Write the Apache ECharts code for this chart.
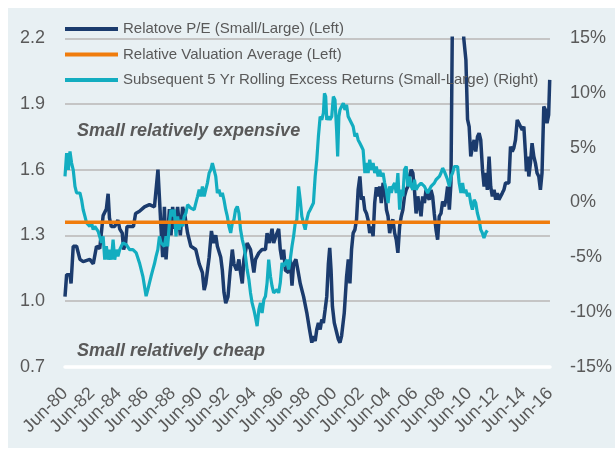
<!DOCTYPE html>
<html>
<head>
<meta charset="utf-8">
<script src="https://cdn.jsdelivr.net/npm/echarts@6/dist/echarts.min.js"></script>
<style>
  html, body { margin: 0; padding: 0; background: #ffffff; }
  #chart { position: absolute; left: 8px; top: 8px; width: 607px; height: 440px; }
</style>
</head>
<body>
<div id="chart"></div>
<script>
// x values are years after Jun-80 (0 = Jun-80, 36 = Jun-16)
const peX = [0, 0.12, 0.37, 0.45, 0.61, 0.86, 1.11, 1.35, 1.84, 2.1, 2.34, 2.58, 2.83, 3.07, 3.2, 3.3, 3.44, 3.69, 3.93, 4.06,
  4.25, 4.35, 4.5, 4.6, 4.84, 5.08, 5.24, 5.53, 5.9, 6.27, 6.64, 6.9, 7.13, 7.25, 7.38, 7.5, 7.75, 7.87, 7.99, 8.16,
  8.36, 8.56, 8.73, 8.9, 9.1, 9.34, 9.71, 9.96, 10.2, 10.33, 10.45, 10.7, 10.87, 11.02, 11.19, 11.31, 11.56, 11.68, 11.8, 11.93,
  12.1, 12.25, 12.42, 12.54, 12.74, 12.91, 13.03, 13.16, 13.28, 13.52, 13.77, 14.02, 14.14, 14.39, 14.63, 14.88, 15.0, 15.17, 15.37, 15.49,
  15.67, 15.86, 15.98, 16.1, 16.23, 16.36, 16.6, 16.72, 16.85, 16.97, 17.14, 17.29, 17.46, 17.71, 17.95, 18.15, 18.32, 18.44, 18.57, 18.69,
  18.81, 18.94, 19.06, 19.18, 19.31, 19.43, 19.55, 19.65, 19.75, 19.85, 19.99, 20.17, 20.29, 20.41, 20.53, 20.73, 20.9, 21.03, 21.15, 21.27,
  21.39, 21.52, 21.64, 21.76, 21.89, 22.01, 22.13, 22.25, 22.38, 22.5, 22.62, 22.75, 22.87, 22.99, 23.11, 23.24, 23.36, 23.48, 23.61, 23.73,
  23.86, 23.98, 24.1, 24.22, 24.34, 24.47, 24.59, 24.71, 24.84, 24.96, 25.08, 25.2, 25.33, 25.45, 25.57, 25.7, 25.82, 25.94, 26.06, 26.19,
  26.31, 26.43, 26.55, 26.68, 26.8, 26.92, 27.04, 27.17, 27.29, 27.41, 27.54, 27.66, 27.78, 27.91, 28.03, 28.16, 28.28, 28.4, 28.53, 28.65,
  28.78, 29.1, 29.45, 29.6, 29.76, 29.88, 30.0, 30.12, 30.25, 30.37, 30.49, 30.62, 30.74, 30.86, 30.99, 31.11, 31.23, 31.35, 31.48, 31.6,
  31.72, 31.85, 31.97, 32.09, 32.21, 32.34, 32.46, 32.58, 32.7, 32.83, 32.95, 33.07, 33.2, 33.32, 33.44, 33.57, 33.69, 33.81, 33.94, 34.06,
  34.18, 34.25, 34.34, 34.43, 34.55, 34.67, 34.8, 34.92, 35.04, 35.17, 35.29, 35.41, 35.54, 35.66, 35.78, 35.9, 35.98]
const peValue = [1.02, 1.12, 1.12, 1.08, 1.25, 1.25, 1.19, 1.18, 1.19, 1.17, 1.25, 1.24, 1.39, 1.42, 1.49, 1.38, 1.34, 1.34, 1.37, 1.33,
  1.31, 1.235, 1.265, 1.34, 1.34, 1.34, 1.40, 1.41, 1.43, 1.44, 1.43, 1.60, 1.33, 1.20, 1.43, 1.19, 1.42, 1.30, 1.43, 1.33,
  1.43, 1.30, 1.43, 1.39, 1.31, 1.25, 1.235, 1.17, 1.13, 1.05, 1.08, 1.20, 1.32, 1.265, 1.30, 1.25, 1.20, 1.14, 1.04, 0.99,
  1.02, 1.13, 1.235, 1.17, 1.14, 1.19, 1.13, 1.08, 1.19, 1.265, 1.235, 1.13, 1.19, 1.22, 1.235, 1.235, 1.31, 1.265, 1.33, 1.265,
  1.30, 1.33, 1.235, 1.19, 1.235, 1.14, 1.13, 1.19, 1.07, 1.17, 1.19, 1.14, 1.08, 1.02, 0.946, 0.87, 0.81, 0.84, 0.817, 0.87,
  0.90, 0.87, 0.916, 0.90, 0.961, 1.02, 1.17, 1.243, 1.14, 0.976, 0.90, 0.855, 0.825, 0.81, 0.84, 0.946, 1.11, 1.19, 1.08, 1.235,
  1.31, 1.326, 1.372, 1.508, 1.569, 1.463, 1.478, 1.417, 1.40, 1.37, 1.31, 1.34, 1.296, 1.448, 1.52, 1.478, 1.523, 1.447, 1.54, 1.52,
  1.417, 1.387, 1.31, 1.357, 1.372, 1.31, 1.28, 1.22, 1.341, 1.387, 1.417, 1.478, 1.508, 1.523, 1.569, 1.60, 1.585, 1.508, 1.40, 1.478,
  1.432, 1.387, 1.478, 1.447, 1.508, 1.478, 1.463, 1.508, 1.478, 1.40, 1.326, 1.28, 1.387, 1.40, 1.455, 1.432, 1.463, 1.523, 1.417, 1.54,
  2.45, 2.6, 2.45, 2.2, 2.10, 1.83, 1.797, 1.66, 1.706, 1.736, 1.683, 1.75, 1.767, 1.736, 1.60, 1.523, 1.585, 1.508, 1.66, 1.523,
  1.478, 1.508, 1.463, 1.493, 1.463, 1.455, 1.493, 1.508, 1.539, 1.53, 1.539, 1.706, 1.683, 1.70, 1.736, 1.827, 1.82, 1.797, 1.782, 1.797,
  1.676, 1.592, 1.66, 1.569, 1.63, 1.721, 1.66, 1.63, 1.585, 1.569, 1.508, 1.585, 1.888, 1.873, 1.812, 1.85, 2.01]

const avgX = [0, 36]
const avgValue = [1.36, 1.36]

const retX = [0, 0.12, 0.25, 0.37, 0.49, 0.61, 0.74, 0.86, 0.98, 1.11, 1.23, 1.35, 1.48, 1.6, 1.72, 1.84, 1.97, 2.09, 2.21, 2.34,
  2.46, 2.58, 2.71, 2.83, 2.95, 3.07, 3.2, 3.32, 3.44, 3.57, 3.69, 3.81, 3.93, 4.06, 4.18, 4.3, 4.55, 4.79, 5.04, 5.29,
  5.53, 5.78, 6.02, 6.15, 6.27, 6.39, 6.52, 6.64, 6.76, 6.89, 7.01, 7.13, 7.25, 7.38, 7.5, 7.62, 7.75, 7.87, 7.99, 8.11,
  8.24, 8.36, 8.48, 8.61, 8.73, 8.85, 8.98, 9.1, 9.34, 9.59, 9.71, 9.84, 9.96, 10.08, 10.2, 10.33, 10.45, 10.57, 10.7, 10.82,
  10.94, 11.07, 11.19, 11.31, 11.43, 11.56, 11.68, 11.8, 11.93, 12.05, 12.17, 12.3, 12.42, 12.54, 12.66, 12.79, 12.91, 13.03, 13.16, 13.28,
  13.4, 13.52, 13.65, 13.77, 13.89, 14.02, 14.14, 14.26, 14.39, 14.51, 14.63, 14.76, 14.88, 15.0, 15.12, 15.25, 15.37, 15.49, 15.61, 15.74,
  15.86, 15.98, 16.11, 16.23, 16.35, 16.48, 16.6, 16.72, 16.85, 16.97, 17.09, 17.21, 17.34, 17.46, 17.58, 17.7, 17.83, 17.95, 18.07, 18.2,
  18.32, 18.44, 18.57, 18.69, 18.81, 18.94, 19.06, 19.18, 19.26, 19.35, 19.43, 19.55, 19.67, 19.8, 19.92, 20.04, 20.16, 20.24, 20.33, 20.41,
  20.53, 20.66, 20.78, 20.9, 21.02, 21.15, 21.27, 21.39, 21.52, 21.64, 21.76, 21.89, 22.01, 22.13, 22.26, 22.38, 22.5, 22.62, 22.75, 22.87,
  22.99, 23.11, 23.24, 23.36, 23.48, 23.61, 23.73, 23.85, 23.98, 24.1, 24.22, 24.34, 24.47, 24.59, 24.71, 24.84, 24.96, 25.08, 25.2, 25.33,
  25.45, 25.57, 25.7, 25.82, 25.94, 26.06, 26.19, 26.31, 26.43, 26.55, 26.68, 26.8, 26.92, 27.04, 27.17, 27.29, 27.41, 27.54, 27.66, 27.79,
  27.91, 28.03, 28.16, 28.28, 28.4, 28.53, 28.65, 28.77, 28.9, 29.02, 29.14, 29.26, 29.39, 29.51, 29.63, 29.75, 29.88, 30.0, 30.12, 30.24,
  30.37, 30.49, 30.61, 30.74, 30.86, 30.98, 31.1, 31.23, 31.35]
const retValue = [2.38, 4.51, 2.99, 4.66, 3.6, 2.99, 1.47, 0.87, 1.01, 0.87, 0.25, -0.66, -1.27, -1.87, -1.72, -2.18, -1.87, -2.48, -2.18, -2.18,
  -2.64, -2.78, -3.69, -3.09, -5.22, -4.0, -5.22, -4.31, -5.22, -3.39, -5.22, -4.31, -4.92, -4.31, -4.46, -3.69, -3.85, -4.31, -4.31, -4.61,
  -5.52, -6.74, -8.56, -7.95, -7.34, -6.74, -6.13, -5.6, -4.92, -4.31, -3.09, -3.69, -3.69, -4.0, -3.09, -4.0, -1.87, -0.66, -1.27, -0.66,
  -3.09, -1.27, -2.48, -1.57, -2.18, -1.27, -0.96, -0.2, -0.51, -0.66, -0.05, 0.56, 1.17, 0.56, 1.47, 0.56, 1.17, 1.77, 2.69, 2.99,
  3.6, 3.45, 2.38, 0.87, 1.17, 0.56, 0.87, 0.25, -0.66, -1.27, -2.18, -2.78, -1.87, -1.57, -0.66, -0.36, -0.96, -2.48, -3.39, -4.0,
  -4.92, -6.13, -7.04, -8.26, -9.17, -9.8, -10.5, -11.3, -9.78, -9.17, -10.1, -8.87, -8.56, -7.34, -5.22, -6.74, -7.65, -8.26, -8.26, -7.95,
  -8.26, -7.34, -5.52, -5.83, -5.52, -5.22, -6.13, -5.22, -4.0, -3.09, -1.87, -1.57, 1.47, 0.25, -1.27, -1.87, -2.48, -1.57, -0.96, -0.66,
  -0.66, -0.05, 2.38, 3.9, 6.03, 7.85, 7.55, 8.16, 9.98, 9.68, 7.55, 7.85, 7.55, 7.85, 9.68, 9.37, 6.64, 4.21, 7.85, 8.46,
  8.77, 9.07, 8.46, 8.92, 7.85, 7.85, 7.24, 6.94, 6.03, 6.33, 5.72, 5.42, 5.12, 4.81, 2.69, 3.6, 2.69, 3.9, 2.99, 3.6,
  2.69, 3.29, 2.38, 2.99, 2.38, 2.69, 1.77, 1.17, -0.05, 1.47, 0.87, 1.47, 1.77, 0.87, 2.69, -0.66, 1.17, 0.56, 2.99, 3.29,
  1.47, 2.38, 1.47, 1.17, 2.08, 1.17, 1.47, 1.47, 1.77, 1.77, 1.47, 1.47, 0.87, 1.17, 1.47, 1.47, 1.77, 2.08, 1.9, 2.38,
  2.69, 3.14, 2.84, 2.69, 2.08, 1.47, 2.38, 2.69, 3.29, 3.14, 3.29, 1.78, 0.87, 1.78, 0.87, 1.17, 0.56, 0.87, -0.05, -0.66,
  0.25, -0.05, -0.96, -1.57, -2.48, -2.78, -3.24, -2.78, -2.54]

const seriesNames = [
  'Relatove P/E (Small/Large) (Left)',
  'Relative Valuation Average (Left)',
  'Subsequent 5 Yr Rolling Excess Returns (Small-Large) (Right)'
]
const leftTicks = { min: 0.7, max: 2.2, step: 0.3 }
const rightTicks = { min: -15, max: 15, step: 5 }
const startYear = 80 // labels read Jun-80, Jun-82 ... Jun-16

const font = 'Liberation Sans'
const grey = '#595959'

const pairs = (xs, ys) => xs.map((x, i) => [x, ys[i]])

const chart = echarts.init(document.getElementById('chart'))

const option = {
  animation: false,
  backgroundColor: '#e8f0f3',
  textStyle: { fontFamily: font },
  grid: { left: 57, right: 62.3, top: 30.3, bottom: 81.3 },
  legend: {
    orient: 'vertical',
    left: 57,
    top: 13.5,
    padding: 0,
    itemWidth: 53,
    itemHeight: 4,
    itemGap: 10.5,
    icon: 'rect',
    data: seriesNames,
    textStyle: { fontSize: 15, color: grey, fontFamily: font }
  },
  xAxis: {
    type: 'value',
    min: 0,
    max: 36,
    interval: 2,
    axisLine: { show: true, onZero: false, lineStyle: { color: '#ffffff', width: 3.5 } },
    axisTick: { show: false },
    splitLine: { show: false },
    axisLabel: {
      rotate: 45,
      margin: 24,
      fontSize: 18,
      color: grey,
      showMinLabel: true,
      showMaxLabel: true,
      formatter: v => 'Jun-' + String((startYear + v) % 100).padStart(2, '0')
    }
  },
  yAxis: [
    {
      type: 'value',
      min: leftTicks.min,
      max: leftTicks.max,
      interval: leftTicks.step,
      axisLine: { show: false },
      axisTick: { show: false },
      axisLabel: { fontSize: 18, color: grey, margin: 20, formatter: v => v.toFixed(1) },
      splitLine: { lineStyle: { color: '#c5c5c5', width: 2 } }
    },
    {
      type: 'value',
      position: 'right',
      min: rightTicks.min,
      max: rightTicks.max,
      interval: rightTicks.step,
      axisLine: { show: false },
      axisTick: { show: false },
      axisLabel: { fontSize: 18, color: grey, margin: 20, formatter: '{value}%' },
      splitLine: { show: false }
    }
  ],
  series: [
    {
      name: seriesNames[0],
      type: 'line',
      yAxisIndex: 0,
      data: pairs(peX, peValue),
      showSymbol: false,
      clip: true,
      color: '#1b3b6d',
      lineStyle: { width: 3.5, color: '#1b3b6d' },
      z: 2
    },
    {
      name: seriesNames[2],
      type: 'line',
      yAxisIndex: 1,
      data: pairs(retX, retValue),
      showSymbol: false,
      clip: true,
      color: '#13adc0',
      lineStyle: { width: 3.2, color: '#13adc0' },
      z: 3
    },
    {
      name: seriesNames[1],
      type: 'line',
      yAxisIndex: 0,
      data: pairs(avgX, avgValue),
      showSymbol: false,
      color: '#f07c0c',
      lineStyle: { width: 3.5, color: '#f07c0c' },
      z: 4
    }
  ],
  graphic: [
    {
      type: 'text',
      left: 69,
      top: 114,
      style: { text: 'Small relatively expensive', fill: grey, font: 'italic bold 18px "Liberation Sans"' }
    },
    {
      type: 'text',
      left: 69,
      top: 334,
      style: { text: 'Small relatively cheap', fill: grey, font: 'italic bold 18px "Liberation Sans"' }
    }
  ]
}

chart.setOption(option)
</script>
</body>
</html>
